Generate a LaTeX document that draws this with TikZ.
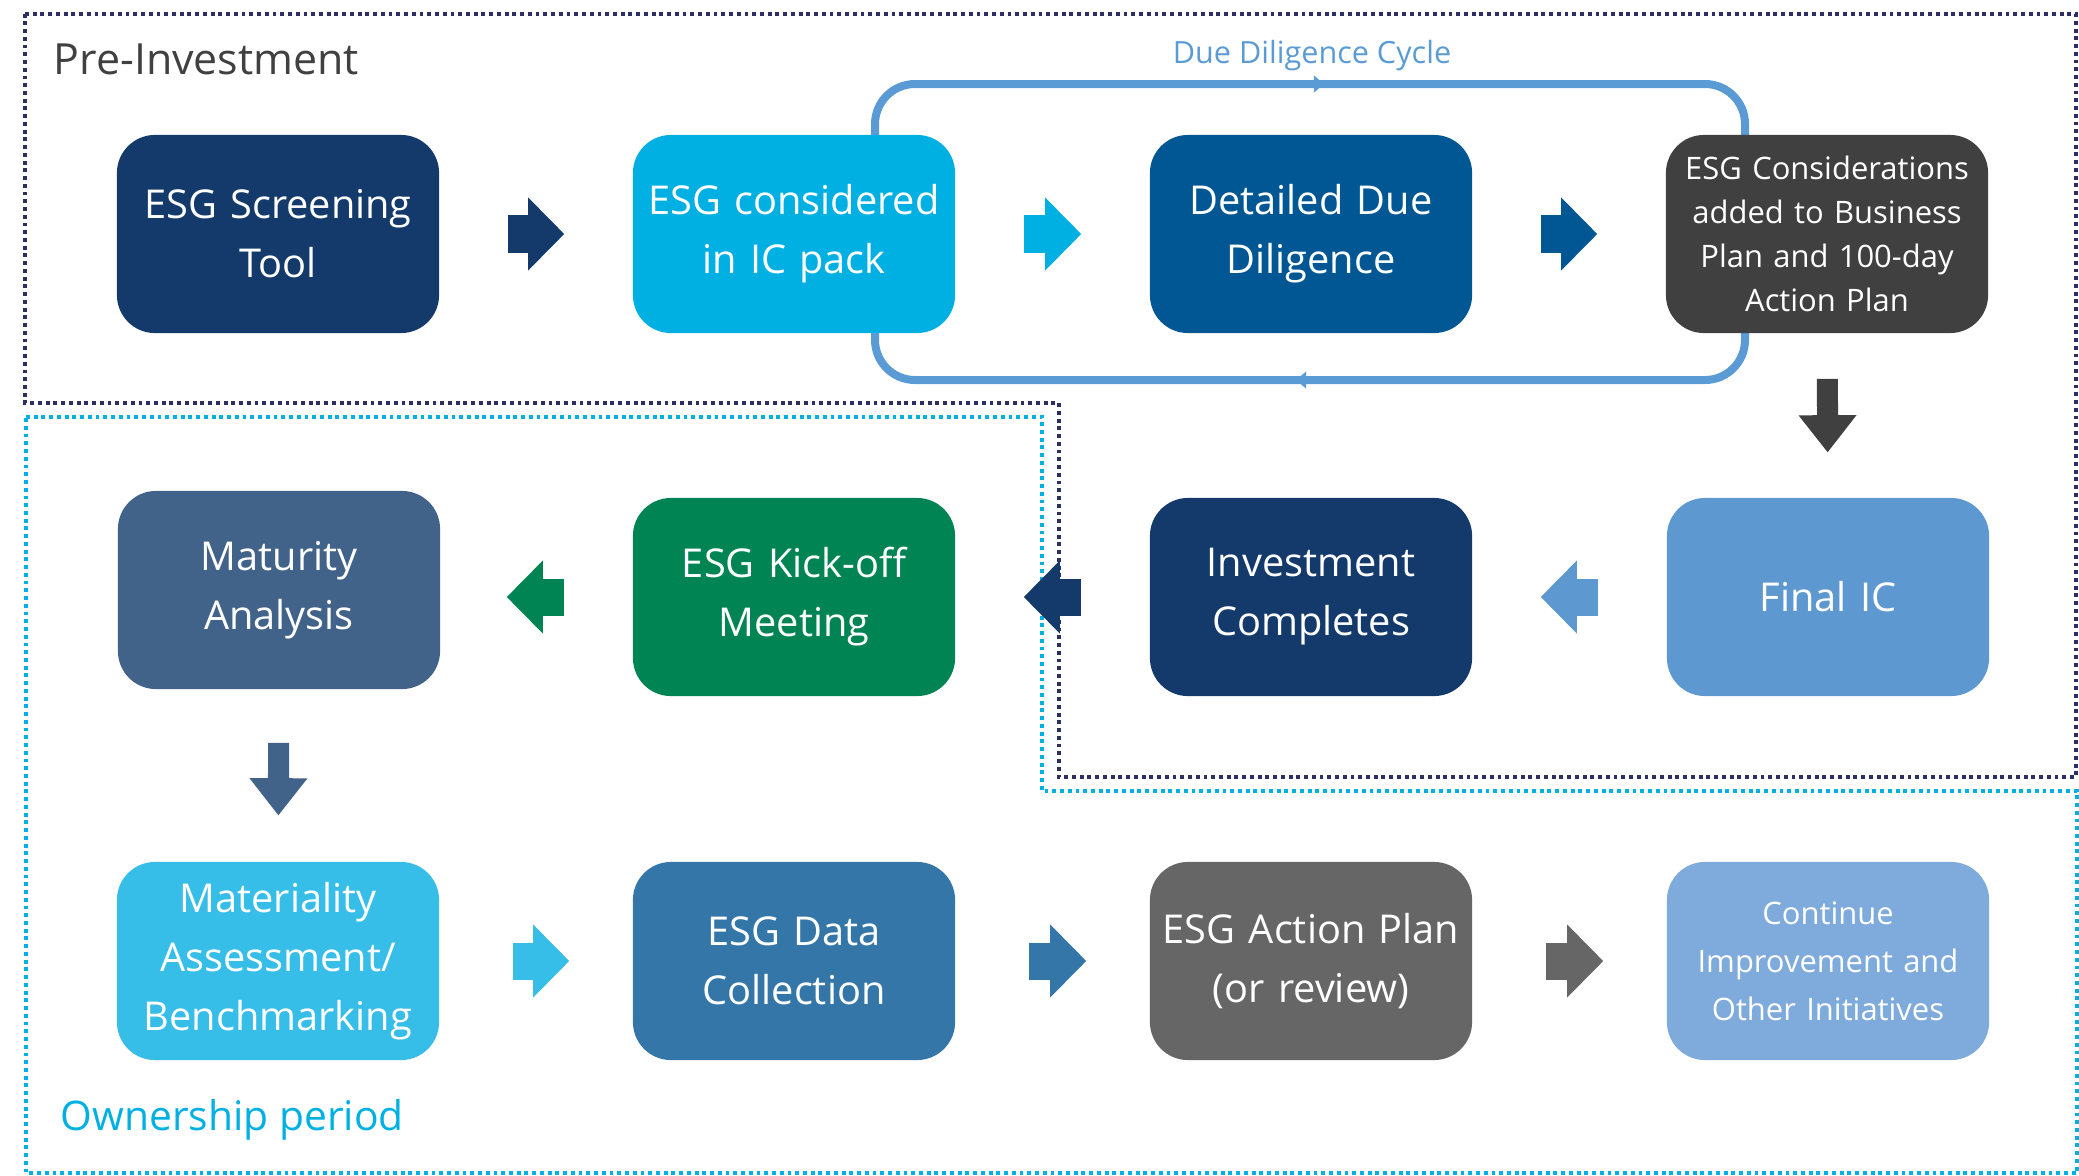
\documentclass[tikz,border=0pt]{standalone}
\usepackage{fontspec}
\setmainfont{Open Sans}
\usetikzlibrary{arrows.meta,decorations.markings}
\definecolor{navyblue}{RGB}{20,58,108}
\definecolor{brightcyan}{RGB}{0,176,227}
\definecolor{deepblue}{RGB}{0,87,148}
\definecolor{charcoal}{RGB}{64,64,65}
\definecolor{finalblue}{RGB}{94,152,208}
\definecolor{kickgreen}{RGB}{0,132,84}
\definecolor{slateblue}{RGB}{66,99,137}
\definecolor{lightcyan}{RGB}{54,189,232}
\definecolor{datablue}{RGB}{52,118,168}
\definecolor{midgray}{RGB}{101,102,101}
\definecolor{paleblue}{RGB}{126,171,219}
\definecolor{loopblue}{RGB}{91,155,213}
\definecolor{framenavy}{RGB}{44,47,99}
\definecolor{labelgray}{RGB}{64,64,64}

\begin{document}
\begin{tikzpicture}[x=0.01cm, y=-0.01cm,
    stage/.style={rounded corners=0.38cm, minimum width=3.22cm, minimum height=1.98cm,
      text width=3.2cm, align=center, inner sep=0pt, text=white,
      font=\fontsize{11.3}{16.8}\selectfont},
    flowarrow/.style={line width=0.37cm, -{Triangle[length=0.36cm, width=0.73cm, line width=0pt]},
      shorten <=0.68cm, shorten >=0.68cm},
    lowarrow/.style={flowarrow, shorten <=0.73cm, shorten >=0.63cm},
    downarrow/.style={line width=0.21cm, -{Triangle[length=0.37cm, width=0.58cm, line width=0pt]}},
    zoneframe/.style={line width=1.1pt, dash pattern=on 1.1pt off 1.1pt}]
    \useasboundingbox (0,0) rectangle (2079,1175);

    % Pre-investment and ownership zones
    \draw[zoneframe, framenavy] (25,14) -- (2076,14) -- (2076,777) -- (1059,777)
        -- (1059,403) -- (25,403) -- cycle;
    \draw[zoneframe, brightcyan] (26,417) -- (1042,417) -- (1042,791) -- (2077,791)
        -- (2077,1173) -- (26,1173) -- cycle;
    \node[anchor=base west, inner sep=0pt, text=labelgray, font=\fontsize{12.2}{14}\selectfont]
        (preinv) at (53,74) {Pre-Investment};
    \node[anchor=base west, inner sep=0pt, text=brightcyan, font=\fontsize{11.6}{13}\selectfont]
        (ownership) at (60,1130) {Ownership period};

    % Due diligence loop
    \draw[loopblue, line width=0.08cm, rounded corners=0.4cm, postaction=decorate,
        decoration={markings,
          mark=at position 0.2385 with {\arrow{Triangle[length=0.1cm, width=0.17cm, line width=0pt]}},
          mark=at position 0.7385 with {\arrow{Triangle[length=0.1cm, width=0.17cm, line width=0pt]}}}]
        (875,232) -- (875,84) -- (1745,84) -- (1745,380) -- (875,380) -- cycle;
    \node[anchor=base, inner sep=0pt, text=loopblue, font=\fontsize{8.7}{10}\selectfont]
        (ddcycle) at (1312,63) {Due Diligence Cycle};

    % First row
    \node[stage, fill=navyblue] (screening) at (278,234) {ESG Screening\\Tool};
    \node[stage, fill=brightcyan] (icpack) at (794,234) {ESG considered\\in IC pack};
    \node[stage, fill=deepblue] (detailed) at (1311,234) {Detailed Due\\Diligence};
    \node[stage, fill=charcoal, font=\fontsize{8.8}{12.5}\selectfont] (bizplan) at (1827,234)
        {ESG Considerations\\added to Business\\Plan and 100-day\\Action Plan};

    % Second row
    \node[stage, fill=finalblue] (finalic) at (1828,597) {Final IC};
    \node[stage, fill=navyblue] (invest) at (1311,597) {Investment\\Completes};
    \node[stage, fill=kickgreen] (kickoff) at (794,597) {ESG Kick-off\\Meeting};
    \node[stage, fill=slateblue] (maturity) at (279,590) {Maturity\\Analysis};

    % Third row
    \node[stage, fill=lightcyan] (materiality) at (278,961) {Materiality\\Assessment/\\Benchmarking};
    \node[stage, fill=datablue] (datacoll) at (794,961) {ESG Data\\Collection};
    \node[stage, fill=midgray] (actionplan) at (1311,961) {ESG Action Plan\\(or review)};
    \node[stage, fill=paleblue, font=\fontsize{8.8}{13.7}\selectfont] (continue) at (1828,961)
        {Continue\\Improvement and\\Other Initiatives};

    % Block arrows
    \draw[flowarrow, navyblue] (screening) -- (icpack);
    \draw[flowarrow, brightcyan] (icpack) -- (detailed);
    \draw[flowarrow, deepblue] (detailed) -- (bizplan);
    \draw[downarrow, charcoal, shorten <=0.45cm, shorten >=0.45cm] (bizplan) -- (finalic);
    \draw[flowarrow, finalblue] (finalic) -- (invest);
    \draw[flowarrow, navyblue] (invest) -- (kickoff);
    \draw[flowarrow, kickgreen, shorten >=0.66cm] (kickoff) -- (kickoff -| maturity.east);
    \draw[downarrow, slateblue, shorten <=0.53cm, shorten >=0.46cm] (maturity) -- (materiality);
    \draw[lowarrow, lightcyan] (materiality) -- (datacoll);
    \draw[lowarrow, datablue] (datacoll) -- (actionplan);
    \draw[lowarrow, midgray] (actionplan) -- (continue);
\end{tikzpicture}
\end{document}
